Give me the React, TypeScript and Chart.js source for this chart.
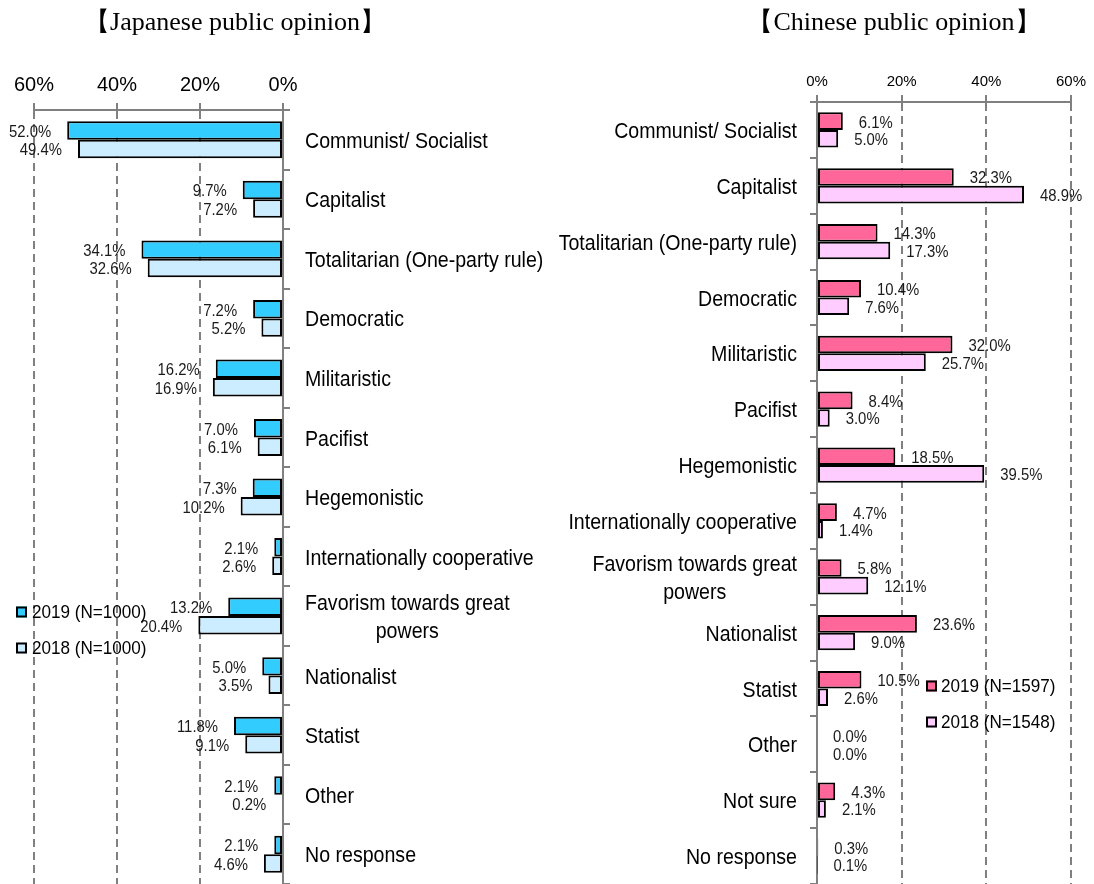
import React, { useEffect, useRef } from 'react';
import { Chart, registerables } from 'chart.js';

Chart.register(...registerables);

// ---------- data ----------
const jpCategories: (string | string[])[] = [
  'Communist/ Socialist',
  'Capitalist',
  'Totalitarian (One-party rule)',
  'Democratic',
  'Militaristic',
  'Pacifist',
  'Hegemonistic',
  'Internationally cooperative',
  ['Favorism towards great', 'powers'],
  'Nationalist',
  'Statist',
  'Other',
  'No response',
];
const jp2019 = [52.0, 9.7, 34.1, 7.2, 16.2, 7.0, 7.3, 2.1, 13.2, 5.0, 11.8, 2.1, 2.1];
const jp2018 = [49.4, 7.2, 32.6, 5.2, 16.9, 6.1, 10.2, 2.6, 20.4, 3.5, 9.1, 0.2, 4.6];
const jpSeriesNames = ['2019 (N=1000)', '2018 (N=1000)'];

const cnCategories: (string | string[])[] = [
  'Communist/ Socialist',
  'Capitalist',
  'Totalitarian (One-party rule)',
  'Democratic',
  'Militaristic',
  'Pacifist',
  'Hegemonistic',
  'Internationally cooperative',
  ['Favorism towards great', 'powers'],
  'Nationalist',
  'Statist',
  'Other',
  'Not sure',
  'No response',
];
const cn2019 = [6.1, 32.3, 14.3, 10.4, 32.0, 8.4, 18.5, 4.7, 5.8, 23.6, 10.5, 0.0, 4.3, 0.3];
const cn2018 = [5.0, 48.9, 17.3, 7.6, 25.7, 3.0, 39.5, 1.4, 12.1, 9.0, 2.6, 0.0, 2.1, 0.1];
const cnSeriesNames = ['2019 (N=1597)', '2018 (N=1548)'];

const xTickValues = [0, 20, 40, 60];
const titles = ['【Japanese public opinion】', '【Chinese public opinion】'];

// ---------- styles ----------
const SANS = '"Liberation Sans", Arial, Helvetica, sans-serif';
const GRAY = '#808080';
const JP_COLORS = ['#33CCFF', '#CCECFF'];
const CN_COLORS = ['#FF6699', '#FFCCFF'];

function hText(ctx: CanvasRenderingContext2D, text: string, x: number, y: number, align: CanvasTextAlign, sx: number) {
  ctx.save();
  ctx.translate(x, y);
  ctx.scale(sx, 1);
  ctx.textAlign = align;
  ctx.textBaseline = 'middle';
  ctx.fillText(text, 0, 0);
  ctx.restore();
}

function makePlugin(opts: {
  labels: (string | string[])[];
  side: 'left' | 'right'; // side where category labels sit relative to axis
  labelGap: number;
  legendNames: string[];
  legendBoxX: number;
  legendTextX: number;
  legendYs: number[];
}) {
  return {
    id: 'customText',
    afterDatasetsDraw(chart: any) {
      const ctx: CanvasRenderingContext2D = chart.ctx;
      ctx.save();
      ctx.fillStyle = '#1a1a1a';
      ctx.font = `16px ${SANS}`;
      chart.data.datasets.forEach((ds: any, di: number) => {
        const meta = chart.getDatasetMeta(di);
        meta.data.forEach((el: any, i: number) => {
          const txt = Number(ds.data[i]).toFixed(1) + '%';
          if (opts.side === 'right') {
            hText(ctx, txt, el.x - 16, el.y + 2, 'right', 0.93);
          } else {
            hText(ctx, txt, el.x + 16, el.y + 2, 'left', 0.93);
          }
        });
      });
      ctx.restore();
    },
    afterDraw(chart: any) {
      const ctx: CanvasRenderingContext2D = chart.ctx;
      const ys = chart.scales.y;
      const area = chart.chartArea;
      const SX = 0.89;
      const LH = 28;
      ctx.save();
      ctx.fillStyle = '#000';
      ctx.font = `22px ${SANS}`;
      opts.labels.forEach((lab, i) => {
        const lines = Array.isArray(lab) ? lab : [lab];
        const cy = ys.getPixelForValue(i) + 2;
        const widths = lines.map((l) => ctx.measureText(l).width * SX);
        const bw = Math.max(...widths);
        const cx = opts.side === 'right' ? area.right + opts.labelGap + bw / 2 : area.left - opts.labelGap - bw / 2;
        lines.forEach((l, j) => {
          const ly = cy + (j - (lines.length - 1) / 2) * LH;
          hText(ctx, l, cx, ly, 'center', SX);
        });
      });
      // legend
      ctx.font = `19px ${SANS}`;
      opts.legendNames.forEach((name, k) => {
        const y = opts.legendYs[k];
        const col = chart.data.datasets[k].backgroundColor;
        ctx.fillStyle = col;
        ctx.fillRect(opts.legendBoxX, y - 5.5, 11, 11);
        ctx.strokeStyle = '#000';
        ctx.lineWidth = 2;
        ctx.strokeRect(opts.legendBoxX + 1, y - 4.5, 9, 9);
        ctx.fillStyle = '#000';
        hText(ctx, name, opts.legendTextX, y + 1, 'left', 0.9);
      });
      ctx.restore();
    },
  };
}

function buildConfig(p: {
  labels: (string | string[])[];
  d2019: number[];
  d2018: number[];
  colors: string[];
  names: string[];
  reverse: boolean;
  axisTop: number;
  yWidth: number;
  padding: any;
  tickFont: number;
  tickPad: number;
  catPct: number;
  plugin: any;
}): any {
  return {
    type: 'bar',
    data: {
      labels: p.labels,
      datasets: [
        {
          label: p.names[0],
          data: p.d2019,
          backgroundColor: p.colors[0],
          borderColor: '#000',
          borderWidth: 2,
          borderSkipped: false,
          barPercentage: 1,
          categoryPercentage: p.catPct,
        },
        {
          label: p.names[1],
          data: p.d2018,
          backgroundColor: p.colors[1],
          borderColor: '#000',
          borderWidth: 2,
          borderSkipped: false,
          barPercentage: 1,
          categoryPercentage: p.catPct,
        },
      ],
    },
    options: {
      indexAxis: 'y',
      responsive: false,
      animation: false,
      layout: { padding: p.padding },
      plugins: { legend: { display: false }, tooltip: { enabled: false }, title: { display: false } },
      scales: {
        x: {
          position: 'top',
          min: 0,
          max: 60,
          reverse: p.reverse,
          afterBuildTicks: (s: any) => {
            s.ticks = xTickValues.map((v) => ({ value: v }));
          },
          afterFit: (s: any) => {
            s.height = p.axisTop;
          },
          ticks: {
            callback: (v: any) => v + '%',
            color: '#000',
            font: { family: SANS, size: p.tickFont },
            padding: p.tickPad,
            maxRotation: 0,
          },
          grid: {
            color: GRAY,
            lineWidth: 2,
            tickLength: 7,
            tickColor: GRAY,
            tickWidth: 2,
            drawOnChartArea: true,
          },
          border: { display: true, color: GRAY, width: 2, dash: [8, 5] },
        },
        y: {
          position: p.reverse ? 'right' : 'left',
          afterFit: (s: any) => {
            s.width = p.yWidth;
          },
          ticks: { display: false },
          grid: {
            drawOnChartArea: false,
            drawTicks: true,
            tickLength: 7,
            color: GRAY,
            tickColor: GRAY,
            tickWidth: 2,
            lineWidth: 2,
            offset: true,
          },
          border: { display: true, color: GRAY, width: 2 },
        },
      },
    },
    plugins: [p.plugin],
  };
}

export default function App() {
  const leftRef = useRef<HTMLCanvasElement>(null);
  const rightRef = useRef<HTMLCanvasElement>(null);

  useEffect(() => {
    const leftPlugin = makePlugin({
      labels: jpCategories,
      side: 'right',
      labelGap: 22,
      legendNames: jpSeriesNames,
      legendBoxX: 16,
      legendTextX: 32,
      legendYs: [612, 648],
    });
    const rightPlugin = makePlugin({
      labels: cnCategories,
      side: 'left',
      labelGap: 20,
      legendNames: cnSeriesNames,
      legendBoxX: 377,
      legendTextX: 392,
      legendYs: [686, 722],
    });
    const left = new Chart(
      leftRef.current as HTMLCanvasElement,
      buildConfig({
        labels: jpCategories,
        d2019: jp2019,
        d2018: jp2018,
        colors: JP_COLORS,
        names: jpSeriesNames,
        reverse: true,
        axisTop: 110,
        yWidth: 266,
        padding: { left: 34, right: 0, top: 0, bottom: 0 },
        tickFont: 20,
        tickPad: 6,
        catPct: 0.62,
        plugin: leftPlugin,
      })
    );
    const right = new Chart(
      rightRef.current as HTMLCanvasElement,
      buildConfig({
        labels: cnCategories,
        d2019: cn2019,
        d2018: cn2018,
        colors: CN_COLORS,
        names: cnSeriesNames,
        reverse: false,
        axisTop: 102,
        yWidth: 268,
        padding: { left: 0, right: 23, top: 0, bottom: 0 },
        tickFont: 15,
        tickPad: 4,
        catPct: 0.63,
        plugin: rightPlugin,
      })
    );
    return () => {
      left.destroy();
      right.destroy();
    };
  }, []);

  const titleStyle: React.CSSProperties = {
    position: 'absolute',
    top: 7,
    fontFamily: '"Liberation Serif", "Times New Roman", serif',
    fontSize: 26,
    lineHeight: '30px',
    textAlign: 'center',
    color: '#000',
    whiteSpace: 'nowrap',
  };

  return (
    <div style={{ position: 'absolute', left: 0, top: 0, width: 1094, height: 884, background: '#fff', overflow: 'hidden' }}>
      <canvas ref={leftRef} width={549} height={884} style={{ position: 'absolute', left: 0, top: 0, display: 'block' }} />
      <canvas ref={rightRef} width={545} height={884} style={{ position: 'absolute', left: 549, top: 0, display: 'block' }} />
      <div style={{ ...titleStyle, left: 0, width: 470 }}>{titles[0]}</div>
      <div style={{ ...titleStyle, left: 694, width: 400 }}>{titles[1]}</div>
    </div>
  );
}
